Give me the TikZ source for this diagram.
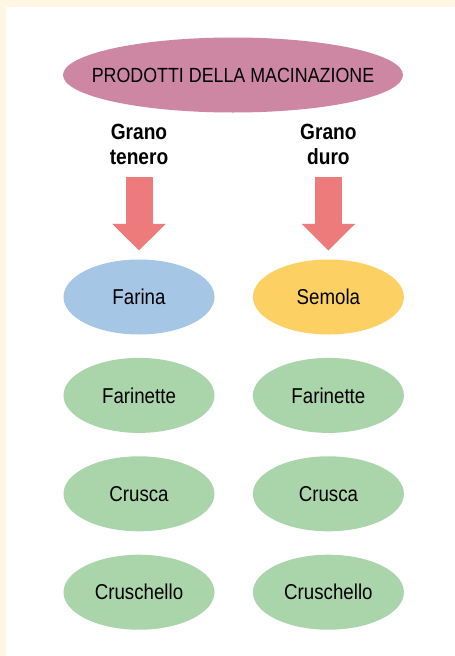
\documentclass[tikz,border=0pt]{standalone}
\usepackage{fontspec}
\setmainfont{Liberation Sans}[FakeStretch=0.87]
\usepackage{xcolor}
\usepackage{tikz}
\usetikzlibrary{shapes.geometric, arrows.meta, positioning}

\definecolor{creambg}{RGB}{255,246,228}
\definecolor{rootpink}{RGB}{205,135,163}
\definecolor{farinablue}{RGB}{166,198,230}
\definecolor{semolayellow}{RGB}{253,208,99}
\definecolor{subgreen}{RGB}{170,212,170}
\definecolor{arrowred}{RGB}{238,123,123}

\begin{document}
\begin{tikzpicture}[
    x=1pt, y=1pt,
    node distance=23pt and 38pt,
    rootell/.style={ellipse, fill=rootpink, minimum width=340pt,
                  minimum height=75pt, inner xsep=-25pt, inner ysep=0pt,
                  font=\fontsize{20.5}{24}\selectfont},
    prodell/.style={ellipse, minimum width=151pt, minimum height=75pt,
                  inner sep=0pt, font=\fontsize{21.5}{25}\selectfont},
    farinaell/.style={prodell, fill=farinablue},
    semolaell/.style={prodell, fill=semolayellow},
    subell/.style={prodell, fill=subgreen},
    grainlbl/.style={align=center, inner sep=0pt,
                  font=\fontsize{22}{25}\selectfont\bfseries},
    bigarr/.style={-{Triangle[length=26.7pt, width=52pt]}, line width=27pt,
                  draw=arrowred},
  ]
    % ── Frame ────────────────────────────────────
    \useasboundingbox (0,0) rectangle (455,-656);
    \fill[creambg] (0,0) rectangle (455,-656);
    \fill[white] (6,-7) rectangle (455,-656);

    % ── Root ─────────────────────────────────────
    \node[rootell] (root) at (233,-75) {PRODOTTI DELLA MACINAZIONE};

    % ── Main products ────────────────────────────
    \node[farinaell] (farina) at (139,-297) {Farina};
    \node[semolaell, right=of farina] (semola) {Semola};

    % ── Grain labels ─────────────────────────────
    \node[grainlbl, above=94.5pt of farina] (tenero) {Grano\\tenero};
    \node[grainlbl, above=94.5pt of semola] (duro) {Grano\\duro};

    % ── Arrows ───────────────────────────────────
    \draw[bigarr, shorten <=12pt, shorten >=8.8pt] (tenero) -- (farina);
    \draw[bigarr, shorten <=12pt, shorten >=8.8pt] (duro) -- (semola);

    % ── By-products ──────────────────────────────
    \node[subell, below=of farina] (farinette1) {Farinette};
    \node[subell, below=of semola] (farinette2) {Farinette};
    \node[subell, below=of farinette1] (crusca1) {Crusca};
    \node[subell, below=of farinette2] (crusca2) {Crusca};
    \node[subell, below=of crusca1] (cruschello1) {Cruschello};
    \node[subell, below=of crusca2] (cruschello2) {Cruschello};
  \end{tikzpicture}
\end{document}
